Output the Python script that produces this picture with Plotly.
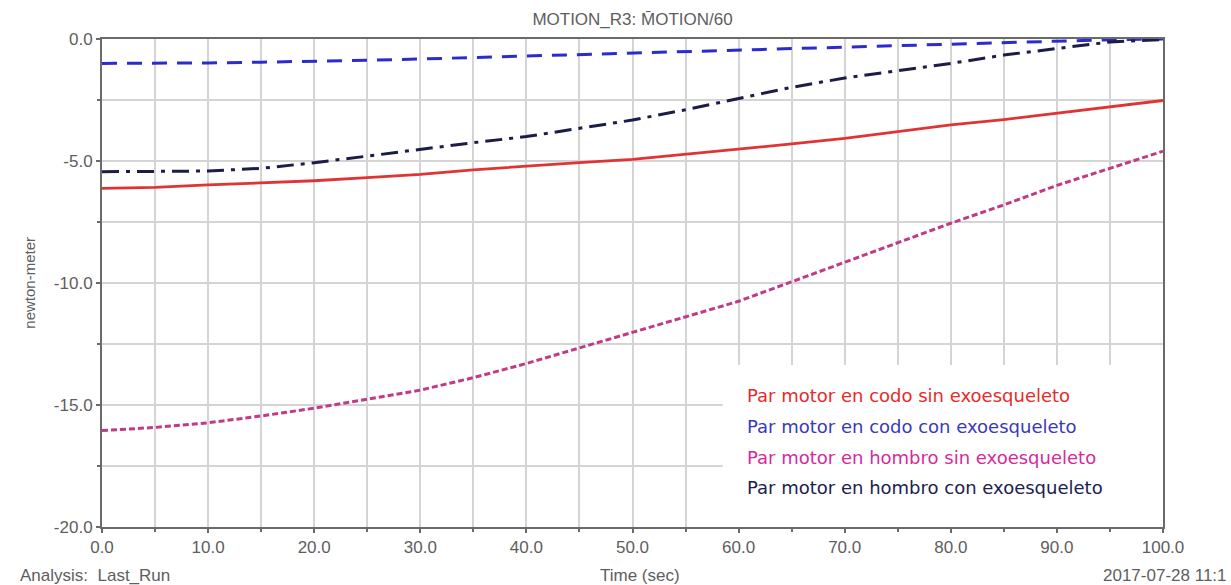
import plotly.graph_objects as go

# Simulation time (s)
time_s = [0, 5, 10, 15, 20, 25, 30, 35, 40, 45, 50, 55, 60, 65, 70, 75, 80, 85, 90, 95, 100]

# Joint torques (newton-meter)
codo_sin = [-6.12, -6.08, -5.98, -5.90, -5.81, -5.68, -5.55, -5.36, -5.20, -5.07, -4.93,
            -4.73, -4.52, -4.30, -4.07, -3.80, -3.52, -3.30, -3.05, -2.78, -2.52]
codo_con = [-1.00, -1.00, -0.98, -0.95, -0.92, -0.87, -0.82, -0.76, -0.70, -0.64, -0.58,
            -0.52, -0.46, -0.39, -0.32, -0.26, -0.20, -0.13, -0.08, -0.03, 0.00]
hombro_sin = [-16.05, -15.92, -15.73, -15.45, -15.13, -14.77, -14.39, -13.88, -13.30, -12.66, -12.03,
              -11.40, -10.75, -9.95, -9.15, -8.35, -7.55, -6.80, -6.00, -5.30, -4.60]
hombro_con = [-5.44, -5.43, -5.41, -5.30, -5.07, -4.80, -4.52, -4.25, -4.00, -3.66, -3.32,
              -2.90, -2.45, -1.98, -1.60, -1.30, -1.00, -0.66, -0.38, -0.12, -0.02]

series_names = [
    "Par motor en codo sin exoesqueleto",
    "Par motor en codo con exoesqueleto",
    "Par motor en hombro sin exoesqueleto",
    "Par motor en hombro con exoesqueleto",
]

x_ticks = [0, 10, 20, 30, 40, 50, 60, 70, 80, 90, 100]
x_tick_labels = ["0.0", "10.0", "20.0", "30.0", "40.0", "50.0", "60.0", "70.0", "80.0", "90.0", "100.0"]
y_ticks = [0, -5, -10, -15, -20]
y_tick_labels = ["0.0", "-5.0", "-10.0", "-15.0", "-20.0"]

colors = ["#e03434", "#2b2bd0", "#c23a86", "#1c1c48"]
text_colors = ["#e82a2a", "#3a3ab8", "#d62a9c", "#20204e"]
dashes = ["solid", "15px,10px", "6px,3px", "17px,7px,4px,7px"]
widths = [2.8, 3, 3, 3]
values = [codo_sin, codo_con, hombro_sin, hombro_con]

fig = go.Figure()
for name, yv, c, d, w in zip(series_names, values, colors, dashes, widths):
    fig.add_trace(go.Scatter(
        x=time_s, y=yv, mode="lines", name=name,
        line=dict(color=c, dash=d, width=w),
        showlegend=False,
    ))

# White panel behind the legend text, hiding the grid there
fig.add_shape(type="rect", xref="x", yref="y", x0=58.5, x1=100, y0=-20, y1=-13.36,
              fillcolor="white", line=dict(width=0), layer="between")

legend_y = [-14.59, -15.90, -17.17, -18.40]
for name, tc, ly in zip(series_names, text_colors, legend_y):
    fig.add_annotation(x=60.6, y=ly, xref="x", yref="y", text=name, showarrow=False,
                       xanchor="left", yanchor="middle",
                       font=dict(family="DejaVu Sans", size=18, color=tc))

label_font = dict(family="Liberation Sans, Arial", size=17, color="#5e5e5e")

fig.add_annotation(x=-0.079, y=0.5, xref="paper", yref="paper", text="newton-meter",
                   textangle=-90, showarrow=False, font=dict(family="Liberation Sans, Arial", size=15, color="#5e5e5e"))
fig.add_annotation(x=-0.079, y=-0.10, xref="paper", yref="paper", text="Analysis:  Last_Run",
                   xanchor="left", yanchor="middle", showarrow=False, font=label_font)
fig.add_annotation(x=0.507, y=-0.10, xref="paper", yref="paper", text="Time (sec)",
                   xanchor="center", yanchor="middle", showarrow=False, font=label_font)
fig.add_annotation(x=1.062, y=-0.10, xref="paper", yref="paper", text="2017-07-28 11:1",
                   xanchor="right", yanchor="middle", showarrow=False, font=label_font)

fig.update_layout(
    width=1231, height=585,
    margin=dict(l=102, r=68, t=39, b=58),
    paper_bgcolor="white", plot_bgcolor="white",
    title=dict(text="MOTION_R3: M\u0304OTION/60", x=0.5, xref="paper", xanchor="center",
               y=1 - 19 / 585, yref="container", yanchor="middle",
               font=dict(family="Liberation Sans, Arial", size=17, color="#5e5e5e")),
)

fig.update_xaxes(
    range=[0, 100], tickvals=x_ticks, ticktext=x_tick_labels,
    showline=True, linecolor="#6a6a6a", linewidth=2, mirror=True,
    showgrid=True, gridcolor="#d4d4d4", gridwidth=1.5,
    ticks="outside", ticklen=4, tickcolor="#6a6a6a", tickwidth=1.5,
    minor=dict(dtick=5, showgrid=True, gridcolor="#d4d4d4", gridwidth=1.5,
               ticks="outside", ticklen=3, tickcolor="#6a6a6a"),
    tickfont=label_font, zeroline=False,
)
fig.update_yaxes(
    range=[-20, 0], tickvals=y_ticks, ticktext=y_tick_labels,
    showline=True, linecolor="#6a6a6a", linewidth=2, mirror=True,
    showgrid=True, gridcolor="#d4d4d4", gridwidth=1.5,
    ticks="outside", ticklen=4, tickcolor="#6a6a6a", tickwidth=1.5,
    minor=dict(dtick=2.5, showgrid=True, gridcolor="#d4d4d4", gridwidth=1.5,
               ticks="outside", ticklen=3, tickcolor="#6a6a6a"),
    tickfont=label_font, zeroline=False,
)

fig.write_html("out.html")
